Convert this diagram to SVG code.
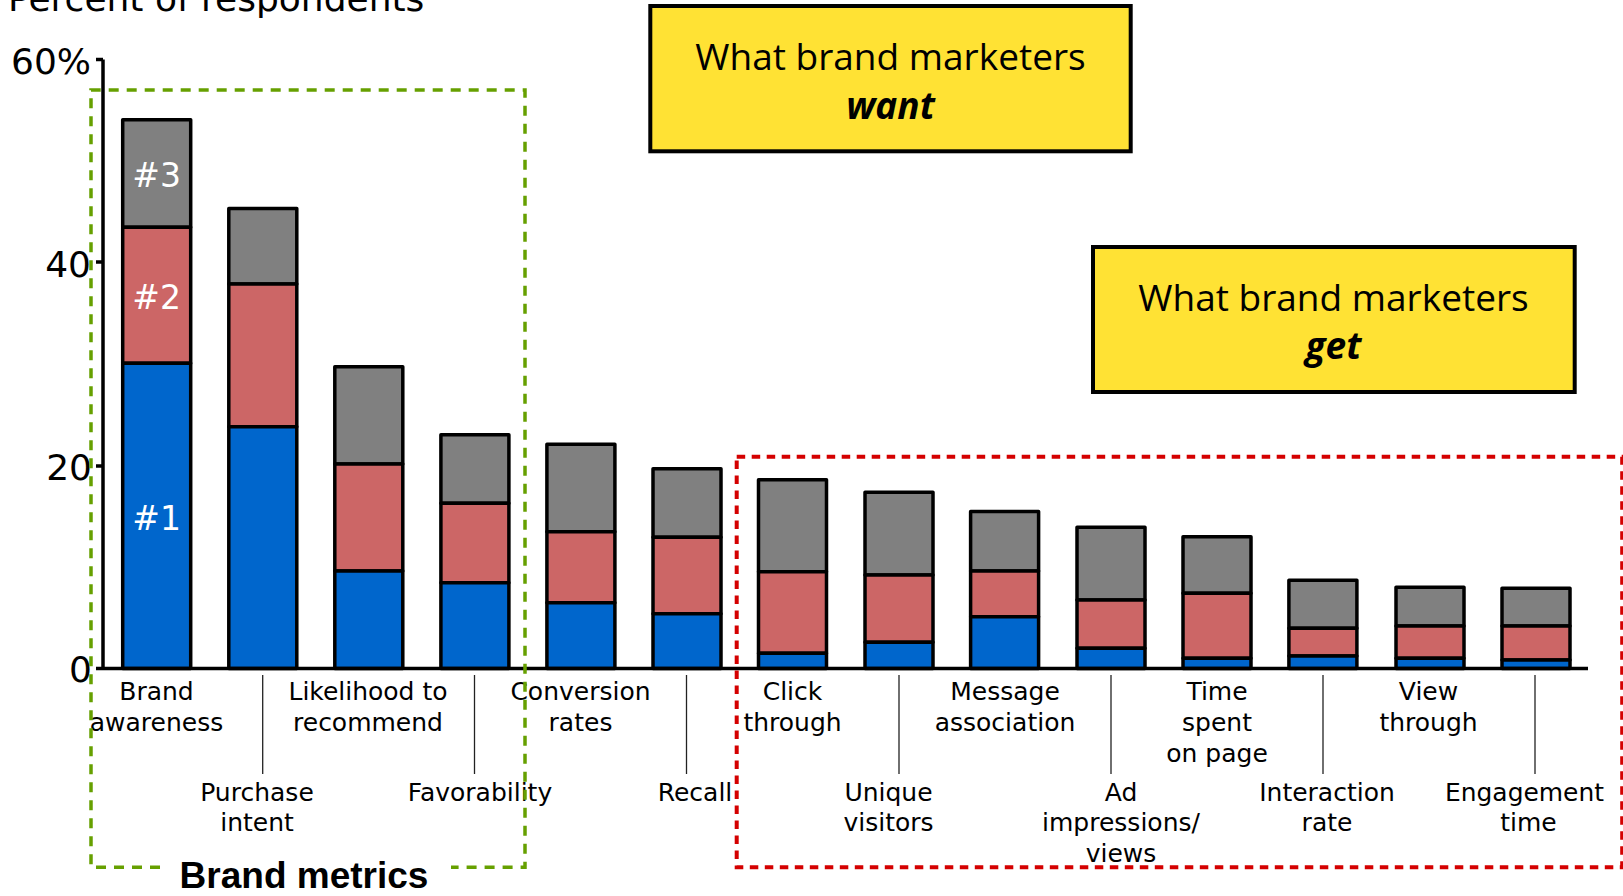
<svg xmlns="http://www.w3.org/2000/svg" width="1623" height="896" viewBox="0 0 1623 896">
<style>
.t{font-family:"DejaVu Sans",Verdana,sans-serif;fill:#000}
.lbl{font-size:25px;text-anchor:middle}
.tick{font-size:36px;text-anchor:end}
.num{font-family:"DejaVu Sans",Verdana,sans-serif;font-size:33px;fill:#fff;text-anchor:middle}
.bx{font-family:"Open Sans","Noto Sans",sans-serif;font-size:37px;text-anchor:middle;fill:#000}
.bxb{font-weight:bold;font-style:italic}
.g{fill:#808080;stroke:#000;stroke-width:3.5;stroke-linejoin:round}
.r{fill:#CC6666;stroke:#000;stroke-width:3.5;stroke-linejoin:round}
.b{fill:#0066CC;stroke:#000;stroke-width:3.5;stroke-linejoin:round}
.sep{stroke:#222;stroke-width:1.3}
.ax{stroke:#000;stroke-width:3.5;fill:none}
.yel{fill:#FFE234;stroke:#000;stroke-width:4}
</style>
<rect width="1623" height="896" fill="#fff"/>

<text class="t" x="8" y="10.5" font-size="36">Percent of respondents</text>

<g id="axes">
<line class="ax" x1="103" y1="59.5" x2="103" y2="668.5"/>
<line class="ax" x1="96" y1="59.5" x2="103" y2="59.5"/>
<line class="ax" x1="96" y1="262" x2="103" y2="262"/>
<line class="ax" x1="96" y1="466" x2="103" y2="466"/>
<text class="t tick" x="91" y="74">60%</text>
<text class="t tick" x="91" y="277">40</text>
<text class="t tick" x="92" y="480">20</text>
<text class="t tick" x="92" y="682">0</text>
</g>

<g id="bars">
<g id="bar1"><rect class="g" x="122.7" y="119.8" width="68" height="107.5"/><rect class="r" x="122.7" y="227.3" width="68" height="136"/><rect class="b" x="122.7" y="363.3" width="68" height="305.2"/></g>
<g id="bar2"><rect class="g" x="228.8" y="208.5" width="68" height="75.5"/><rect class="r" x="228.8" y="284" width="68" height="142.7"/><rect class="b" x="228.8" y="426.7" width="68" height="241.8"/></g>
<g id="bar3"><rect class="g" x="334.8" y="366.8" width="68" height="97.2"/><rect class="r" x="334.8" y="464" width="68" height="107"/><rect class="b" x="334.8" y="571" width="68" height="97.5"/></g>
<g id="bar4"><rect class="g" x="440.9" y="434.8" width="68" height="68.5"/><rect class="r" x="440.9" y="503.3" width="68" height="79.4"/><rect class="b" x="440.9" y="582.7" width="68" height="85.8"/></g>
<g id="bar5"><rect class="g" x="546.9" y="444.2" width="68" height="87.5"/><rect class="r" x="546.9" y="531.7" width="68" height="71"/><rect class="b" x="546.9" y="602.7" width="68" height="65.8"/></g>
<g id="bar6"><rect class="g" x="653" y="468.8" width="68" height="68.5"/><rect class="r" x="653" y="537.3" width="68" height="76.4"/><rect class="b" x="653" y="613.7" width="68" height="54.8"/></g>
<g id="bar7"><rect class="g" x="758.5" y="479.8" width="68" height="91.9"/><rect class="r" x="758.5" y="571.7" width="68" height="81.6"/><rect class="b" x="758.5" y="653.3" width="68" height="15.2"/></g>
<g id="bar8"><rect class="g" x="865" y="492.2" width="68" height="82.8"/><rect class="r" x="865" y="575" width="68" height="67.3"/><rect class="b" x="865" y="642.3" width="68" height="26.2"/></g>
<g id="bar9"><rect class="g" x="970.6" y="511.5" width="68" height="59.5"/><rect class="r" x="970.6" y="571" width="68" height="45.7"/><rect class="b" x="970.6" y="616.7" width="68" height="51.8"/></g>
<g id="bar10"><rect class="g" x="1077" y="527.2" width="68" height="72.8"/><rect class="r" x="1077" y="600" width="68" height="48.3"/><rect class="b" x="1077" y="648.3" width="68" height="20.2"/></g>
<g id="bar11"><rect class="g" x="1183" y="536.8" width="68" height="56.5"/><rect class="r" x="1183" y="593.3" width="68" height="65"/><rect class="b" x="1183" y="658.3" width="68" height="10.2"/></g>
<g id="bar12"><rect class="g" x="1288.9" y="580.2" width="68" height="48.1"/><rect class="r" x="1288.9" y="628.3" width="68" height="27.7"/><rect class="b" x="1288.9" y="656" width="68" height="12.5"/></g>
<g id="bar13"><rect class="g" x="1396" y="587.2" width="68" height="38.8"/><rect class="r" x="1396" y="626" width="68" height="32.3"/><rect class="b" x="1396" y="658.3" width="68" height="10.2"/></g>
<g id="bar14"><rect class="g" x="1502" y="588.2" width="68" height="37.8"/><rect class="r" x="1502" y="626" width="68" height="34"/><rect class="b" x="1502" y="660" width="68" height="8.5"/></g>
</g>

<line class="ax" x1="96" y1="668.5" x2="1588" y2="668.5"/>

<g id="rank-labels">
<text class="num" x="156.7" y="187">#3</text>
<text class="num" x="156.7" y="308.5">#2</text>
<text class="num" x="156.7" y="529.5">#1</text>
</g>

<g id="separators">
<line class="sep" x1="262.7" y1="675" x2="262.7" y2="774"/>
<line class="sep" x1="474.5" y1="675" x2="474.5" y2="774"/>
<line class="sep" x1="686.5" y1="675" x2="686.5" y2="774"/>
<line class="sep" x1="899" y1="675" x2="899" y2="774"/>
<line class="sep" x1="1111" y1="675" x2="1111" y2="774"/>
<line class="sep" x1="1323" y1="675" x2="1323" y2="774"/>
<line class="sep" x1="1535" y1="675" x2="1535" y2="774"/>
</g>

<g id="category-labels">
<text class="t lbl" x="156.5" y="700">Brand</text>
<text class="t lbl" x="156.5" y="730.5">awareness</text>
<text class="t lbl" x="368" y="700">Likelihood to</text>
<text class="t lbl" x="368" y="730.5">recommend</text>
<text class="t lbl" x="580.5" y="700">Conversion</text>
<text class="t lbl" x="580.5" y="730.5">rates</text>
<text class="t lbl" x="792.5" y="700">Click</text>
<text class="t lbl" x="792.5" y="730.5">through</text>
<text class="t lbl" x="1005" y="700">Message</text>
<text class="t lbl" x="1005" y="730.5">association</text>
<text class="t lbl" x="1217" y="700">Time</text>
<text class="t lbl" x="1217" y="730.5">spent</text>
<text class="t lbl" x="1217" y="761.5">on page</text>
<text class="t lbl" x="1428.5" y="700">View</text>
<text class="t lbl" x="1428.5" y="730.5">through</text>
<text class="t lbl" x="257" y="801">Purchase</text>
<text class="t lbl" x="257" y="831">intent</text>
<text class="t lbl" x="480" y="801">Favorability</text>
<text class="t lbl" x="695" y="801">Recall</text>
<text class="t lbl" x="888.5" y="801">Unique</text>
<text class="t lbl" x="888.5" y="831">visitors</text>
<text class="t lbl" x="1121" y="801">Ad</text>
<text class="t lbl" x="1121" y="831">impressions/</text>
<text class="t lbl" x="1121" y="861.5">views</text>
<text class="t lbl" x="1327" y="801">Interaction</text>
<text class="t lbl" x="1327" y="831">rate</text>
<text class="t lbl" x="1524.5" y="801" textLength="159" lengthAdjust="spacingAndGlyphs">Engagement</text>
<text class="t lbl" x="1528.5" y="831">time</text>
</g>

<g id="brand-metrics-group">
<path d="M160 867.3 H91 V90 H525 V867.3 H451" fill="none" stroke="#66A000" stroke-width="3.5" stroke-dasharray="10 8"/>
<text x="304" y="888" font-family="'Liberation Sans',Arial,sans-serif" font-weight="bold" font-size="37" text-anchor="middle" fill="#000">Brand metrics</text>
</g>

<g id="digital-metrics-group">
<rect x="736.7" y="456.7" width="885.5" height="410.6" fill="none" stroke="#D40000" stroke-width="4" stroke-dasharray="8.5 6.5"/>
</g>

<g id="box-want">
<rect class="yel" x="650.3" y="6" width="480.4" height="145.3"/>
<text class="bx" x="890.5" y="70">What brand marketers</text>
<text class="bx bxb" x="890.5" y="118.5">want</text>
</g>

<g id="box-get">
<rect class="yel" x="1093" y="247" width="481.7" height="145"/>
<text class="bx" x="1333.5" y="311">What brand marketers</text>
<text class="bx bxb" x="1333.5" y="358.5">get</text>
</g>
</svg>
